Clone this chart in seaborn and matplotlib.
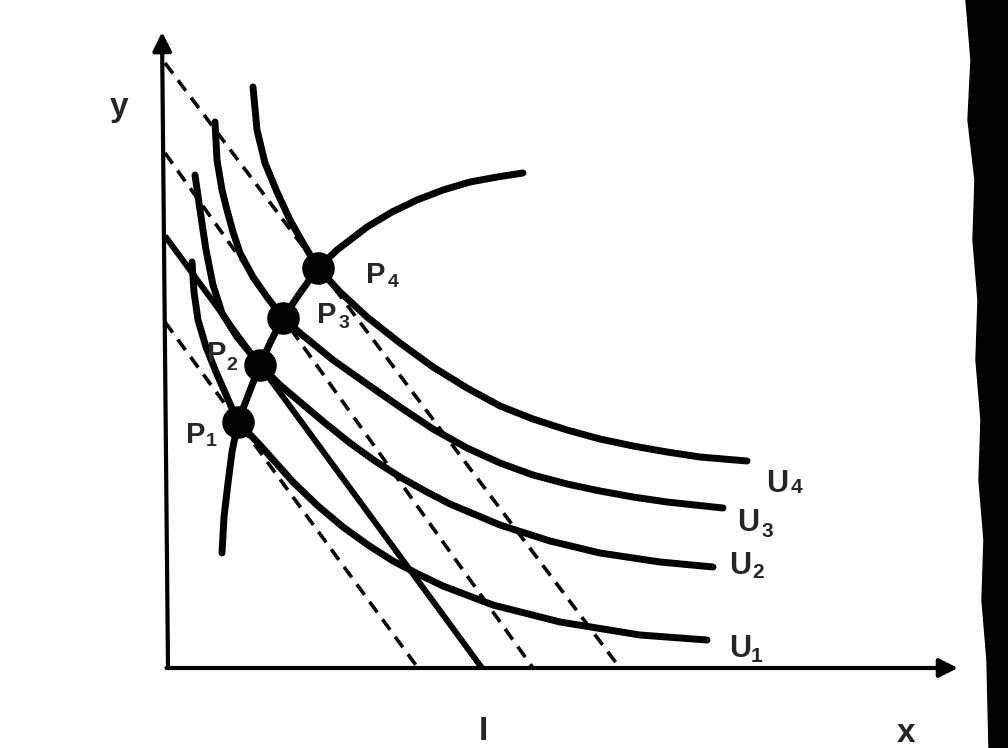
import matplotlib
matplotlib.use("Agg")
import matplotlib.pyplot as plt
from matplotlib.patches import Polygon
import seaborn as sns

sns.set_theme(style="white")
plt.rcParams["font.family"] = ["Liberation Sans", "DejaVu Sans"]

# ---- data (diagram units, origin at the axes corner) ----
u4_x = [85, 89, 97, 109, 122, 135, 150, 172, 199, 232, 265, 299, 332, 365, 399, 432, 465, 499, 532, 579]
u4_y = [581, 538, 505, 476, 448, 425, 400, 376, 351, 325, 301, 280, 262, 249, 238, 229, 222, 216, 211, 207]

u3_x = [47, 49, 54, 59, 65, 72, 85, 99, 115, 132, 165, 199, 232, 265, 299, 332, 365, 399, 432, 465, 499, 555]
u3_y = [546, 508, 478, 458, 436, 415, 391, 371, 350, 335, 308, 284, 261, 239, 220, 205, 193, 184, 177, 171, 166, 160]

u2_x = [27, 32, 38, 45, 54, 69, 92, 112, 132, 157, 182, 207, 232, 257, 282, 332, 382, 432, 492, 545]
u2_y = [493, 458, 418, 383, 355, 331, 303, 283, 266, 245, 225, 207, 191, 177, 164, 143, 127, 115, 106, 101]

u1_x = [24, 26, 30, 38, 48, 59, 70, 92, 125, 150, 175, 200, 225, 250, 275, 325, 392, 472, 539]
u1_y = [406, 376, 348, 321, 296, 271, 246, 223, 186, 162, 141, 123, 107, 94, 82, 63, 46, 33, 28]

path_x = [54, 56, 60, 64, 70, 81, 92, 103, 115, 132, 150, 169, 199, 224, 249, 275, 302, 329, 355]
path_y = [115, 151, 185, 216, 246, 275, 303, 327, 350, 375, 400, 418, 441, 456, 468, 478, 486, 491, 495]

opt_x = [70, 92, 115, 150]
opt_y = [246, 303, 350, 400]
opt_labels = ["1", "2", "3", "4"]

# budget lines: y-intercepts and x-intercepts
dashed_yint = [605, 515, 346]
dashed_xint = [452, 365, 250]
solid_yint = 432
solid_xint = 314

u_labels = ["4", "3", "2", "1"]

# ---- figure ----
fig = plt.figure(figsize=(10.08, 7.48), dpi=100)
ax = fig.add_axes([0, 0, 1, 1])
ax.set_xlim(-168, 840)
ax.set_ylim(-80, 668)
ax.axis("off")

# black scan border on the right
edge = [(966, 0), (971, 60), (968, 120), (975, 180), (973, 240), (978, 300),
        (976, 360), (981, 420), (979, 480), (984, 540), (982, 600), (987, 660),
        (989, 748), (1008, 748), (1008, 0)]
fig.patches.append(Polygon([(px / 1008, 1 - py / 748) for px, py in edge],
                           closed=True, transform=fig.transFigure,
                           facecolor="black", edgecolor="black"))

# axes with arrows
ax.annotate("", xy=(-6, 636), xytext=(0, 0),
            arrowprops=dict(arrowstyle="-|>", lw=3, color="black",
                            mutation_scale=28, shrinkA=0, shrinkB=0))
ax.annotate("", xy=(790, 0), xytext=(-1.5, 0),
            arrowprops=dict(arrowstyle="-|>", lw=3, color="black",
                            mutation_scale=28, shrinkA=0, shrinkB=0))

# dashed budget lines
for yi, xi in zip(dashed_yint, dashed_xint):
    sns.lineplot(x=[-3, xi], y=[yi, 0], ax=ax, color="black", linewidth=2.6,
                 linestyle=(0, (3.6, 2.4)), sort=False, estimator=None)

# solid budget line
sns.lineplot(x=[-3, solid_xint], y=[solid_yint, 0], ax=ax, color="black",
             linewidth=4.3, sort=False, estimator=None, solid_capstyle="butt")

# indifference curves
for xs, ys in [(u4_x, u4_y), (u3_x, u3_y), (u2_x, u2_y), (u1_x, u1_y)]:
    sns.lineplot(x=xs, y=ys, ax=ax, color="black", linewidth=5,
                 sort=False, estimator=None, solid_capstyle="round",
                 solid_joinstyle="round")

# price-consumption path
sns.lineplot(x=path_x, y=path_y, ax=ax, color="black", linewidth=5,
             sort=False, estimator=None, solid_capstyle="round",
             solid_joinstyle="round")

# optimum points
sns.scatterplot(x=opt_x, y=opt_y, ax=ax, color="black", s=470,
                edgecolor="black", zorder=5)

# labels
p_pos = [(28, 225, 43, 222), (49, 306, 64, 298), (159, 345, 176, 340), (208, 385, 225, 381)]
for (px, py, sx, sy), lab in zip(p_pos, opt_labels):
    ax.text(px, py, "P", fontsize=21, fontweight="bold", ha="center", va="baseline")
    ax.text(sx, sy, lab, fontsize=14, fontweight="bold", ha="center", va="baseline")

u_pos = [(609, 176, 628, 175), (580, 137, 599, 131), (572, 94, 590, 90), (572, 11, 589, 6)]
for (px, py, sx, sy), lab in zip(u_pos, u_labels):
    ax.text(px, py, "U", fontsize=22, fontweight="bold", ha="center", va="baseline")
    ax.text(sx, sy, lab, fontsize=15, fontweight="bold", ha="center", va="baseline")

ax.text(-49, 552, "y", fontsize=24, fontweight="bold", ha="center", va="baseline")
ax.text(738, -74, "x", fontsize=24, fontweight="bold", ha="center", va="baseline")
ax.text(315, -72, "I", fontsize=24, fontweight="bold", ha="center", va="baseline")

fig.savefig("out.png", dpi=100, facecolor="white")
